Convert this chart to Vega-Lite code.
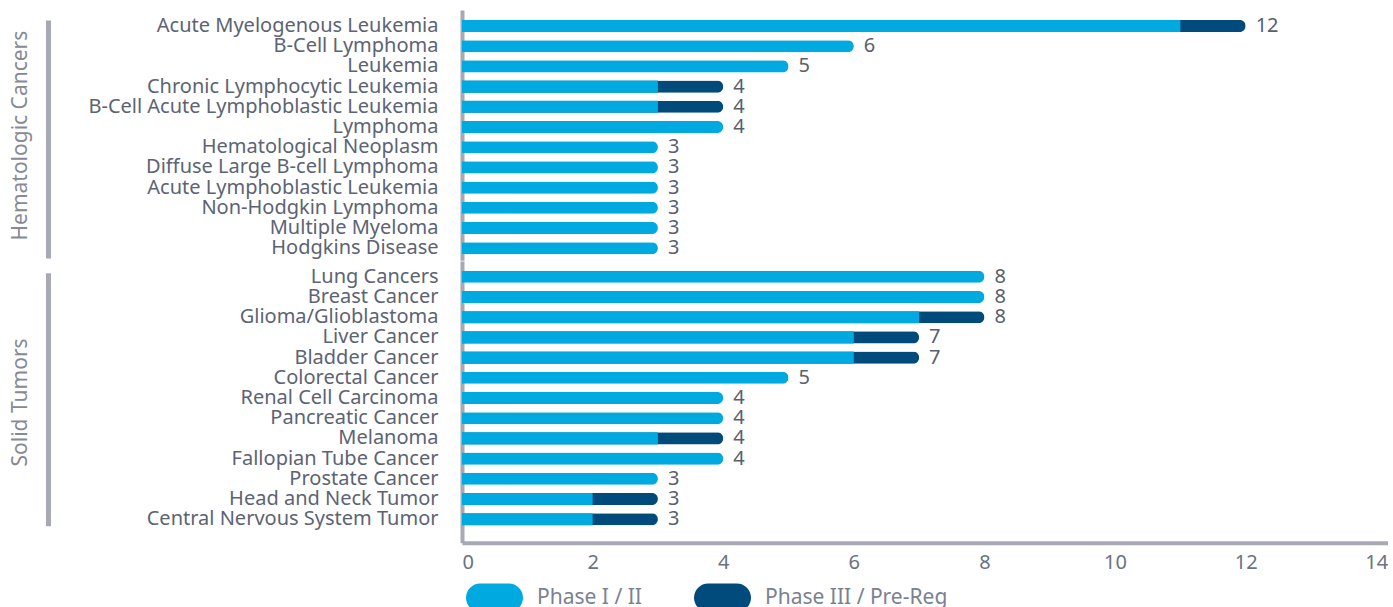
{
  "$schema": "https://vega.github.io/schema/vega-lite/v6.json",
  "padding": {"left": 9, "top": 10, "right": 0, "bottom": 0},
  "background": "white",
  "bounds": "flush",
  "config": {
    "font": "Noto Sans",
    "view": {"stroke": null},
    "concat": {"spacing": 0},
    "legend": {
      "orient": "bottom",
      "direction": "horizontal",
      "title": null,
      "offset": -8,
      "padding": 4,
      "symbolType": "M -0.5 -0.5 L 0.5 -0.5 A 0.5 0.5 0 0 1 0.5 0.5 L -0.5 0.5 A 0.5 0.5 0 0 1 -0.5 -0.5 Z",
      "symbolSize": 3249,
      "symbolStrokeWidth": 0,
      "symbolOpacity": 1,
      "labelFontSize": 21,
      "labelColor": "#7a8191",
      "labelLimit": 400,
      "columnPadding": 52,
      "labelOffset": 14
    }
  },
  "datasets": {
    "trials": [
      {"name": "Acute Myelogenous Leukemia", "group": "Hematologic Cancers", "p1": 11, "p3": 1, "total": 12},
      {"name": "B-Cell Lymphoma", "group": "Hematologic Cancers", "p1": 6, "p3": 0, "total": 6},
      {"name": "Leukemia", "group": "Hematologic Cancers", "p1": 5, "p3": 0, "total": 5},
      {"name": "Chronic Lymphocytic Leukemia", "group": "Hematologic Cancers", "p1": 3, "p3": 1, "total": 4},
      {"name": "B-Cell Acute Lymphoblastic Leukemia", "group": "Hematologic Cancers", "p1": 3, "p3": 1, "total": 4},
      {"name": "Lymphoma", "group": "Hematologic Cancers", "p1": 4, "p3": 0, "total": 4},
      {"name": "Hematological Neoplasm", "group": "Hematologic Cancers", "p1": 3, "p3": 0, "total": 3},
      {"name": "Diffuse Large B-cell Lymphoma", "group": "Hematologic Cancers", "p1": 3, "p3": 0, "total": 3},
      {"name": "Acute Lymphoblastic Leukemia", "group": "Hematologic Cancers", "p1": 3, "p3": 0, "total": 3},
      {"name": "Non-Hodgkin Lymphoma", "group": "Hematologic Cancers", "p1": 3, "p3": 0, "total": 3},
      {"name": "Multiple Myeloma", "group": "Hematologic Cancers", "p1": 3, "p3": 0, "total": 3},
      {"name": "Hodgkins Disease", "group": "Hematologic Cancers", "p1": 3, "p3": 0, "total": 3},
      {"name": "Lung Cancers", "group": "Solid Tumors", "p1": 8, "p3": 0, "total": 8},
      {"name": "Breast Cancer", "group": "Solid Tumors", "p1": 8, "p3": 0, "total": 8},
      {"name": "Glioma/Glioblastoma", "group": "Solid Tumors", "p1": 7, "p3": 1, "total": 8},
      {"name": "Liver Cancer", "group": "Solid Tumors", "p1": 6, "p3": 1, "total": 7},
      {"name": "Bladder Cancer", "group": "Solid Tumors", "p1": 6, "p3": 1, "total": 7},
      {"name": "Colorectal Cancer", "group": "Solid Tumors", "p1": 5, "p3": 0, "total": 5},
      {"name": "Renal Cell Carcinoma", "group": "Solid Tumors", "p1": 4, "p3": 0, "total": 4},
      {"name": "Pancreatic Cancer", "group": "Solid Tumors", "p1": 4, "p3": 0, "total": 4},
      {"name": "Melanoma", "group": "Solid Tumors", "p1": 3, "p3": 1, "total": 4},
      {"name": "Fallopian Tube Cancer", "group": "Solid Tumors", "p1": 4, "p3": 0, "total": 4},
      {"name": "Prostate Cancer", "group": "Solid Tumors", "p1": 3, "p3": 0, "total": 3},
      {"name": "Head and Neck Tumor", "group": "Solid Tumors", "p1": 2, "p3": 1, "total": 3},
      {"name": "Central Nervous System Tumor", "group": "Solid Tumors", "p1": 2, "p3": 1, "total": 3}
    ]
  },
  "vconcat": [
    {
      "data": {"name": "trials"},
      "transform": [{"filter": "datum.group === 'Hematologic Cancers'"}],
      "width": 926,
      "height": 250.2,
      "layer": [
        {
          "encoding": {
            "y": {
              "field": "name", "type": "nominal", "sort": null,
              "scale": {"paddingInner": 0.4, "paddingOuter": 0.393, "align": 0.626},
              "axis": {"title": null, "ticks": false, "domainColor": "#a7a9b4", "domainWidth": 4, "labelFontSize": 20, "labelColor": "#5c6373", "labelPadding": 24, "labelLimit": 500}
            }
          },
          "layer": [
            {
              "mark": {"type": "bar", "cornerRadiusEnd": 6},
              "encoding": {
                "x": {"field": "total", "type": "quantitative", "scale": {"domain": [0, 14.18], "nice": false}, "axis": null},
                "color": {"datum": "Phase III / Pre-Reg", "scale": {"domain": ["Phase I / II", "Phase III / Pre-Reg"], "range": ["#00a9e0", "#004a7c"]}},
                "opacity": {"condition": {"test": "datum.p3 > 0", "value": 1}, "value": 0}
              }
            },
            {
              "mark": {"type": "bar"},
              "encoding": {
                "x": {"field": "p1", "type": "quantitative"},
                "color": {"datum": "Phase I / II"},
                "opacity": {"condition": {"test": "datum.p3 > 0", "value": 1}, "value": 0}
              }
            },
            {
              "mark": {"type": "bar", "cornerRadiusEnd": 6},
              "encoding": {
                "x": {"field": "p1", "type": "quantitative"},
                "color": {"datum": "Phase I / II"},
                "opacity": {"condition": {"test": "datum.p3 == 0", "value": 1}, "value": 0}
              }
            },
            {
              "mark": {"type": "text", "align": "left", "baseline": "middle", "dx": 10, "fontSize": 20, "color": "#56606f"},
              "encoding": {
                "x": {"field": "total", "type": "quantitative"},
                "text": {"field": "total", "type": "quantitative"}
              }
            }
          ]
        },
        {
          "mark": {"type": "point", "opacity": 0},
          "encoding": {
            "y": {
              "field": "group", "type": "nominal",
              "axis": {"orient": "left", "offset": 414, "title": null, "ticks": false, "domainColor": "#a7a9b4", "domainWidth": 5, "domainDash": [238, 300], "domainDashOffset": 528, "labelAngle": -90, "labelFontSize": 21, "labelColor": "#858a95", "labelPadding": 18, "labelLimit": 500}
            }
          }
        }
      ],
      "resolve": {"scale": {"y": "independent"}}
    },
    {
      "data": {"name": "trials"},
      "transform": [{"filter": "datum.group === 'Solid Tumors'"}],
      "width": 926,
      "height": 281.8,
      "layer": [
        {
          "encoding": {
            "y": {
              "field": "name", "type": "nominal", "sort": null,
              "scale": {"paddingInner": 0.4, "paddingOuter": 0.675, "align": 0.357},
              "axis": {"title": null, "ticks": false, "domainColor": "#a7a9b4", "domainWidth": 4, "labelFontSize": 20, "labelColor": "#5c6373", "labelPadding": 24, "labelLimit": 500}
            }
          },
          "layer": [
            {
              "mark": {"type": "bar", "cornerRadiusEnd": 6},
              "encoding": {
                "x": {"field": "total", "type": "quantitative", "scale": {"domain": [0, 14.18], "nice": false},
                  "axis": {"title": null, "ticks": false, "grid": false, "format": "d", "values": [0, 2, 4, 6, 8, 10, 12, 14], "domainColor": "#a7a9b4", "domainWidth": 4, "labelFontSize": 20, "labelColor": "#6b7280", "labelPadding": 10}},
                "color": {"datum": "Phase III / Pre-Reg"},
                "opacity": {"condition": {"test": "datum.p3 > 0", "value": 1}, "value": 0}
              }
            },
            {
              "mark": {"type": "bar"},
              "encoding": {
                "x": {"field": "p1", "type": "quantitative"},
                "color": {"datum": "Phase I / II"},
                "opacity": {"condition": {"test": "datum.p3 > 0", "value": 1}, "value": 0}
              }
            },
            {
              "mark": {"type": "bar", "cornerRadiusEnd": 6},
              "encoding": {
                "x": {"field": "p1", "type": "quantitative"},
                "color": {"datum": "Phase I / II"},
                "opacity": {"condition": {"test": "datum.p3 == 0", "value": 1}, "value": 0}
              }
            },
            {
              "mark": {"type": "text", "align": "left", "baseline": "middle", "dx": 10, "fontSize": 20, "color": "#56606f"},
              "encoding": {
                "x": {"field": "total", "type": "quantitative"},
                "text": {"field": "total", "type": "quantitative"}
              }
            }
          ]
        },
        {
          "mark": {"type": "point", "opacity": 0},
          "encoding": {
            "y": {
              "field": "group", "type": "nominal",
              "axis": {"orient": "left", "offset": 414, "title": null, "ticks": false, "domainColor": "#a7a9b4", "domainWidth": 5, "domainDash": [253, 300], "domainDashOffset": 541.2, "labelAngle": -90, "labelFontSize": 21, "labelColor": "#858a95", "labelPadding": 18, "labelLimit": 500}
            }
          }
        }
      ],
      "resolve": {"scale": {"y": "independent"}}
    }
  ]
}
